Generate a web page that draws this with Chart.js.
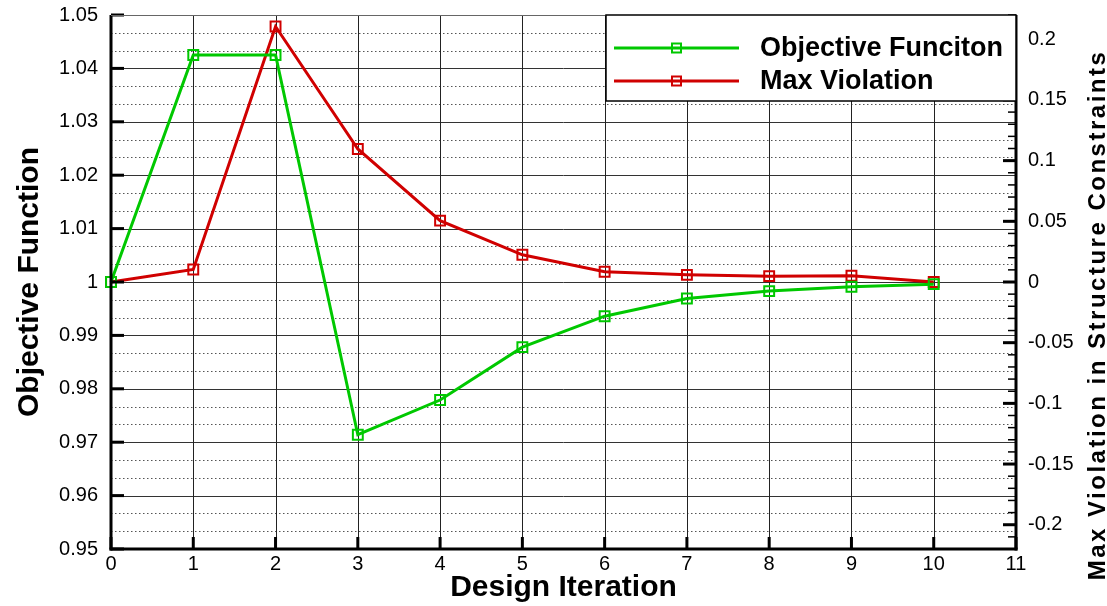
<!DOCTYPE html>
<html>
<head>
<meta charset="utf-8">
<script src="https://cdn.jsdelivr.net/npm/chart.js@4.4.0/dist/chart.umd.min.js"></script>
<style>
  html, body { margin: 0; padding: 0; background: #fff; }
  #wrap { width: 1107px; height: 606px; position: relative; }
</style>
</head>
<body>
<div id="wrap"><canvas id="chart"></canvas></div>
<script>
// data
const iterations = [0, 1, 2, 3, 4, 5, 6, 7, 8, 9, 10];
const objective = [1.0, 1.0425, 1.0425, 0.9714, 0.9779, 0.9878, 0.9936, 0.9969, 0.9983, 0.9991, 0.9996];
const maxViolation = [0, 0.0103, 0.2105, 0.1096, 0.0506, 0.0224, 0.0084, 0.0059, 0.0048, 0.0051, 0];

const xTicks = [0, 1, 2, 3, 4, 5, 6, 7, 8, 9, 10, 11];
const leftTicks = [0.95, 0.96, 0.97, 0.98, 0.99, 1.0, 1.01, 1.02, 1.03, 1.04, 1.05];
const rightTicks = [-0.2, -0.15, -0.1, -0.05, 0, 0.05, 0.1, 0.15, 0.2];
const leftMinor = 3;       // dotted lines between left majors
const rightMinorStep = 0.01;

const FONT = "'Liberation Sans', Arial, Helvetica, sans-serif";
const GREEN = '#00c800';
const RED = '#d00000';

Chart.defaults.font.family = FONT;
Chart.defaults.color = '#000';

function hline(ctx, x1, x2, y) { ctx.beginPath(); ctx.moveTo(x1, y); ctx.lineTo(x2, y); ctx.stroke(); }
function vline(ctx, x, y1, y2) { ctx.beginPath(); ctx.moveTo(x, y1); ctx.lineTo(x, y2); ctx.stroke(); }

// no extra room for half labels, the plot box is fixed
const noPad = s => { s.paddingTop = 0; s.paddingBottom = 0; s.paddingLeft = 0; s.paddingRight = 0; };

const framePlugin = {
    id: 'frame',
    beforeDatasetsDraw(chart) {
        const { ctx, chartArea: a, scales: { x, y } } = chart;
        ctx.save();
        ctx.lineWidth = 1;
        // dotted minor lines
        ctx.setLineDash([1.5, 2.5]);
        ctx.strokeStyle = '#555';
        for (let i = 0; i < leftTicks.length - 1; i++) {
            const step = (leftTicks[i + 1] - leftTicks[i]) / leftMinor;
            for (let k = 1; k < leftMinor; k++) {
                const py = Math.round(y.getPixelForValue(leftTicks[i] + k * step)) + 0.5;
                hline(ctx, a.left, a.right, py);
            }
        }
        ctx.setLineDash([]);
        // major horizontal lines
        ctx.strokeStyle = '#333';
        leftTicks.forEach(v => {
            const py = Math.round(y.getPixelForValue(v)) + 0.5;
            hline(ctx, a.left, a.right, py);
        });
        // vertical lines
        ctx.strokeStyle = '#222';
        xTicks.forEach(v => {
            const px = Math.round(x.getPixelForValue(v)) + 0.5;
            vline(ctx, px, a.top, a.bottom);
        });
        ctx.restore();
    },
    afterDatasetsDraw(chart) {
        const { ctx, chartArea: a, scales: { x, y, y2 } } = chart;
        ctx.save();
        ctx.strokeStyle = '#000';

        // tick marks, pointing inwards
        ctx.lineWidth = 3;
        leftTicks.forEach(v => {
            const py = y.getPixelForValue(v);
            hline(ctx, a.left, a.left + 13, py);
        });
        xTicks.forEach(v => {
            const px = x.getPixelForValue(v);
            vline(ctx, px, a.bottom, a.bottom - 12);
        });
        rightTicks.forEach(v => {
            const py = y2.getPixelForValue(v);
            hline(ctx, a.right - 13, a.right, py);
        });
        ctx.lineWidth = 1.5;
        const lo = Math.ceil(y2.min / rightMinorStep - 1e-6);
        const hi = Math.floor(y2.max / rightMinorStep + 1e-6);
        for (let k = lo; k <= hi; k++) {
            const py = y2.getPixelForValue(k * rightMinorStep);
            hline(ctx, a.right - 8, a.right, py);
        }

        // axis lines
        ctx.lineWidth = 3;
        vline(ctx, a.left, a.top, a.bottom + 1.5);
        vline(ctx, a.right, a.top, a.bottom + 1.5);
        hline(ctx, a.left - 1.5, a.right + 1.5, a.bottom);
        ctx.lineWidth = 1;
        ctx.strokeStyle = '#666';
        hline(ctx, a.left, a.right, Math.round(a.top) + 0.5);

        // legend box
        const lx = a.right - 410, ly = a.top, lw = 410, lh = 86;
        ctx.fillStyle = '#fff';
        ctx.fillRect(lx, ly, lw, lh);
        ctx.strokeStyle = '#000';
        ctx.lineWidth = 1.5;
        ctx.strokeRect(lx, ly, lw, lh);
        chart.data.datasets.forEach((ds, i) => {
            const yy = ly + 33 + i * 33;
            ctx.strokeStyle = ds.borderColor;
            ctx.lineWidth = 3;
            hline(ctx, lx + 8, lx + 133, yy);
            ctx.lineWidth = 2;
            ctx.strokeRect(lx + 66, yy - 4.5, 9, 9);
            ctx.fillStyle = '#000';
            ctx.font = 'bold 27px ' + FONT;
            ctx.textAlign = 'left';
            ctx.textBaseline = 'middle';
            ctx.fillText(ds.label, lx + 154, yy + 1);
        });

        // right axis title
        ctx.translate(1098, 315);
        ctx.rotate(-Math.PI / 2);
        ctx.font = 'bold 24px ' + FONT;
        ctx.letterSpacing = '2.5px';
        ctx.textAlign = 'center';
        ctx.textBaseline = 'middle';
        ctx.fillStyle = '#000';
        ctx.fillText('Max Violation in Structure Constraints', 0, 0);
        ctx.restore();
    }
};

const pts = vals => iterations.map((it, i) => ({ x: it, y: vals[i] }));

new Chart(document.getElementById('chart'), {
    type: 'line',
    data: {
        datasets: [
            {
                label: 'Objective Funciton',
                data: pts(objective),
                yAxisID: 'y',
                borderColor: GREEN,
                borderWidth: 3,
                pointStyle: 'rect',
                pointRadius: 7,
                pointBorderWidth: 2,
                pointBorderColor: GREEN,
                pointBackgroundColor: 'rgba(0,0,0,0)',
                tension: 0,
                clip: false
            },
            {
                label: 'Max Violation',
                data: pts(maxViolation),
                yAxisID: 'y2',
                borderColor: RED,
                borderWidth: 3,
                pointStyle: 'rect',
                pointRadius: 7,
                pointBorderWidth: 2,
                pointBorderColor: RED,
                pointBackgroundColor: 'rgba(0,0,0,0)',
                tension: 0,
                clip: false
            }
        ]
    },
    options: {
        responsive: true,
        maintainAspectRatio: false,
        animation: false,
        events: [],
        layout: { padding: { top: 15, left: 0, right: 0, bottom: 0 } },
        plugins: {
            legend: { display: false },
            tooltip: { enabled: false }
        },
        scales: {
            x: {
                type: 'linear',
                position: 'bottom',
                min: 0,
                max: 11,
                afterBuildTicks: s => { s.ticks = xTicks.map(v => ({ value: v })); },
                afterFit: s => { s.height = 57; noPad(s); },
                grid: { display: false, drawTicks: false },
                border: { display: false },
                ticks: { font: { size: 20 }, color: '#000', padding: 3, maxRotation: 0, autoSkip: false },
                title: {
                    display: true,
                    text: 'Design Iteration',
                    font: { size: 30, weight: 'bold' },
                    color: '#000',
                    padding: { top: 0, bottom: 0 }
                }
            },
            y: {
                type: 'linear',
                position: 'left',
                min: 0.95,
                max: 1.05,
                afterBuildTicks: s => { s.ticks = leftTicks.map(v => ({ value: v })); },
                afterFit: s => { s.width = 111; noPad(s); },
                grid: { display: false, drawTicks: false },
                border: { display: false },
                ticks: {
                    font: { size: 20 }, color: '#000', padding: 13, autoSkip: false,
                    callback: v => String(+v.toFixed(2))
                },
                title: {
                    display: true,
                    text: 'Objective Function',
                    font: { size: 30, weight: 'bold' },
                    color: '#000',
                    padding: { top: 12, bottom: 0 }
                }
            },
            y2: {
                type: 'linear',
                position: 'right',
                min: -0.22,
                max: 0.22,
                afterBuildTicks: s => { s.ticks = rightTicks.map(v => ({ value: v })); },
                afterFit: s => { s.width = 91; noPad(s); },
                grid: { display: false, drawTicks: false },
                border: { display: false },
                ticks: {
                    font: { size: 20 }, color: '#000', padding: 12, autoSkip: false,
                    callback: v => String(+v.toFixed(2))
                }
            }
        }
    },
    plugins: [framePlugin]
});
</script>
</body>
</html>
